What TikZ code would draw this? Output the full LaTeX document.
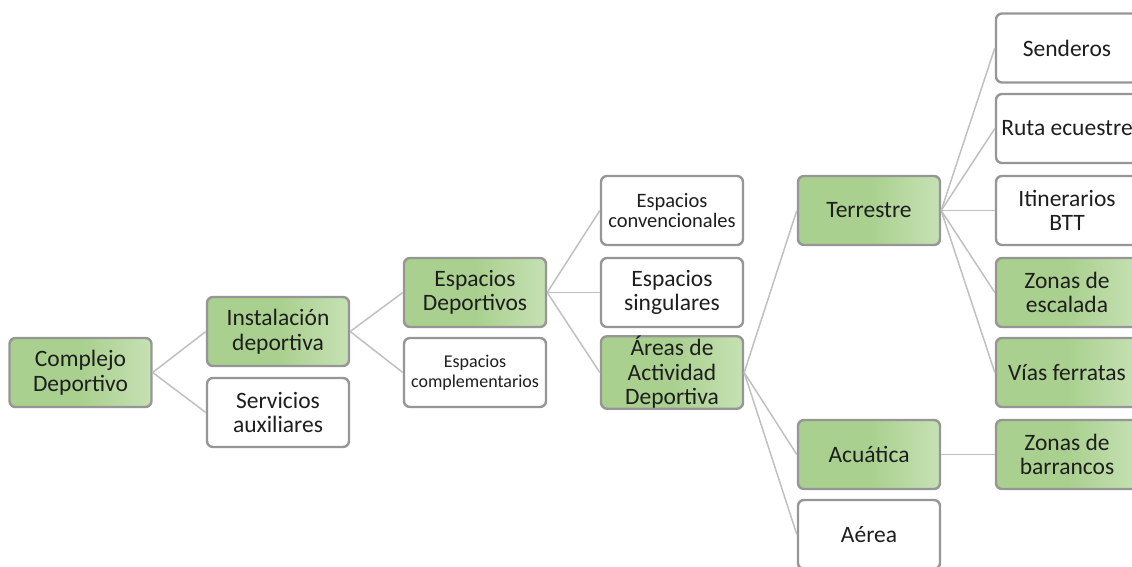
\documentclass[tikz,border=0pt]{standalone}
\usepackage{fontspec}
\setmainfont{Carlito}
\definecolor{gA}{RGB}{169,208,142}
\definecolor{gL}{RGB}{198,225,180}
\definecolor{bord}{RGB}{150,150,150}
\definecolor{lnk}{RGB}{192,192,192}
\definecolor{txt}{RGB}{30,30,30}
\tikzset{
 box/.style={draw=bord, line width=2.4pt, rounded corners=6pt, minimum width=142pt, minimum height=69pt, inner sep=0pt, align=center, text=txt, font=\fontsize{23.5}{24.5}\selectfont},
 gbox/.style={box, left color=gA, right color=gL, middle color=gA},
 wbox/.style={box, fill=white},
 link/.style={draw=lnk, line width=1.5pt},
 smallA/.style={font=\fontsize{20.5}{20}\selectfont},
 smallB/.style={font=\fontsize{18}{20}\selectfont},
}
\begin{document}
\begin{tikzpicture}[x=1pt,y=-1pt]
\useasboundingbox (0,0) rectangle (1132,567);
\clip (0,0) rectangle (1132,567);
% column 1
\node[gbox] (cd) at (80.5,372.5) {Complejo\\Deportivo};
% column 2
\node[gbox] (id) at (278,331.5) {Instalación\\deportiva};
\node[wbox] (sa) at (278,412.5) {Servicios\\auxiliares};
% column 3
\node[gbox] (ed) at (475,292.5) {Espacios\\Deportivos};
\node[wbox, smallB] (ec) at (475,372.5) {Espacios\\complementarios};
% column 4
\node[wbox, smallA] (ecv) at (672,210.5) {Espacios\\convencionales};
\node[wbox] (es) at (672,292.5) {Espacios\\singulares};
\node[gbox] (aad) at (672,372.5) {Áreas de\\Actividad\\Deportiva};
% column 5
\node[gbox] (te) at (869,210.5) {Terrestre};
\node[gbox] (ac) at (869,454.5) {Acuática};
\node[wbox] (ae) at (869,534.5) {Aérea};
% column 6
\node[wbox] (se) at (1067,48) {Senderos};
\node[wbox] (re) at (1067,128.5) {Ruta ecuestre};
\node[wbox] (it) at (1067,210.5) {Itinerarios\\BTT};
\node[gbox] (ze) at (1067,292.5) {Zonas de\\escalada};
\node[gbox] (vf) at (1067,372.5) {Vías ferratas};
\node[gbox] (zb) at (1067,454.5) {Zonas de\\barrancos};
% connectors
\draw[link] (cd.east) -- (id.west);
\draw[link] (cd.east) -- (sa.west);
\draw[link] (id.east) -- (ed.west);
\draw[link] (id.east) -- (ec.west);
\draw[link] (ed.east) -- (ecv.west);
\draw[link] (ed.east) -- (es.west);
\draw[link] (ed.east) -- (aad.west);
\draw[link] (aad.east) -- (te.west);
\draw[link] (aad.east) -- (ac.west);
\draw[link] (aad.east) -- (ae.west);
\draw[link] (te.east) -- (se.west);
\draw[link] (te.east) -- (re.west);
\draw[link] (te.east) -- (it.west);
\draw[link] (te.east) -- (ze.west);
\draw[link] (te.east) -- (vf.west);
\draw[link] (ac.east) -- (zb.west);
\end{tikzpicture}
\end{document}
